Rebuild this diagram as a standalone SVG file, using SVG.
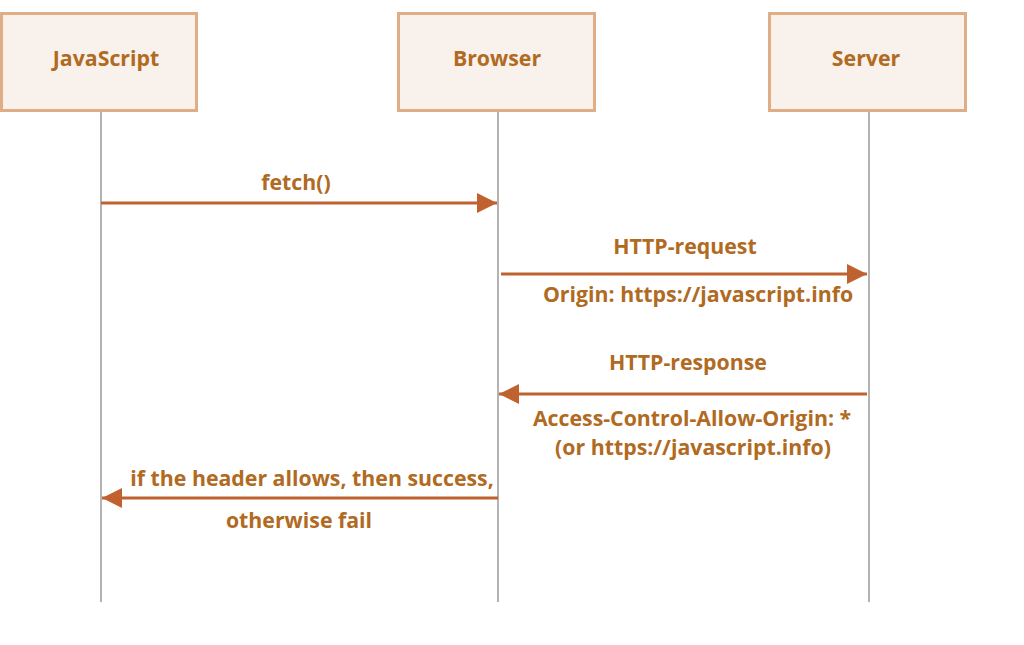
<svg xmlns="http://www.w3.org/2000/svg" width="1024" height="645" viewBox="0 0 1024 645">
<style>
.box{fill:#f9f1eb;stroke:#dfae87;stroke-width:3}
.life{stroke:#8a8a8a;stroke-width:1.3;fill:none}
.msg{stroke:#c0622f;stroke-width:3;fill:none}
.t{font-family:"Open Sans","Liberation Sans",sans-serif;font-weight:bold;font-size:21.3px;fill:#b06a22;text-anchor:middle}
</style>
<defs>
<marker id="ah" markerWidth="20" markerHeight="20" refX="20" refY="10" orient="auto" markerUnits="userSpaceOnUse">
<path d="M0,0 L20,10 L0,20 Z" fill="#c0622f"/>
</marker>
</defs>
<rect width="1024" height="645" fill="#ffffff"/>
<g id="lifelines">
<line class="life" x1="101" y1="111" x2="101" y2="602"/>
<line class="life" x1="498" y1="111" x2="498" y2="602"/>
<line class="life" x1="869" y1="111" x2="869" y2="602"/>
</g>
<g id="node-javascript"><rect class="box" x="1.5" y="13.5" width="195" height="97"/><text class="t" x="106" y="66">JavaScript</text></g>
<g id="node-browser"><rect class="box" x="398.5" y="13.5" width="196" height="97"/><text class="t" x="497" y="66">Browser</text></g>
<g id="node-server"><rect class="box" x="769.5" y="13.5" width="196" height="97"/><text class="t" x="866" y="66">Server</text></g>
<g id="connectors">
<line class="msg" x1="101" y1="203" x2="497" y2="203" marker-end="url(#ah)"/>
<line class="msg" x1="501" y1="274" x2="867" y2="274" marker-end="url(#ah)"/>
<line class="msg" x1="867" y1="394" x2="499" y2="394" marker-end="url(#ah)"/>
<line class="msg" x1="498" y1="498" x2="102" y2="498" marker-end="url(#ah)"/>
</g>
<g id="labels">
<text class="t" x="296" y="190">fetch()</text>
<text class="t" x="685" y="254">HTTP-request</text>
<text class="t" x="698" y="302">Origin: https://javascript.info</text>
<text class="t" x="688" y="370">HTTP-response</text>
<text class="t" x="692" y="426">Access-Control-Allow-Origin: *</text>
<text class="t" x="693" y="455">(or https://javascript.info)</text>
<text class="t" x="312" y="486">if the header allows, then success,</text>
<text class="t" x="299" y="528">otherwise fail</text>
</g>
</svg>
